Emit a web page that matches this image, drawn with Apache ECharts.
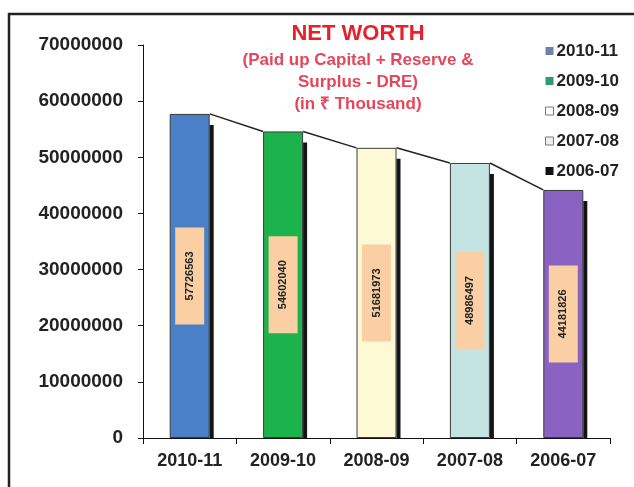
<!DOCTYPE html>
<html>
<head>
<meta charset="utf-8">
<script src="https://cdn.jsdelivr.net/npm/echarts@6/dist/echarts.min.js"></script>
<style>
  html, body { margin: 0; padding: 0; background: #fff; }
  #chart { width: 634px; height: 487px; }
</style>
</head>
<body>
<div id="chart"></div>
<script>
// data
const years = ['2010-11', '2009-10', '2008-09', '2007-08', '2006-07'];
const netWorth = [57726563, 54602040, 51681973, 48986497, 44181826];
const barColors = ['#4a80c8', '#1db34c', '#fdf9d4', '#c4e4e3', '#8a63c2'];
const legendColors = ['#6f80aa', '#2f9b6d', '#ffffff', '#eef0ee', '#111111'];
const yTicks = [0, 10000000, 20000000, 30000000, 40000000, 50000000, 60000000, 70000000];

const chart = echarts.init(document.getElementById('chart'));

// one series per year so the legend lists them; bars overlap via barGap -100%
const barSeries = years.map((y, i) => ({
  name: y,
  type: 'bar',
  barWidth: 40,
  barGap: '-100%',
  data: netWorth.map((v, j) => (j === i ? v : '-')),
  itemStyle: { color: barColors[i], borderColor: '#3a3a3a', borderWidth: 1 },
  label: {
    show: true,
    position: 'inside',
    rotate: 90,
    fontFamily: 'Liberation Sans, Arial, sans-serif',
    fontWeight: 'bold',
    fontSize: 11,
    color: '#222',
    backgroundColor: '#f9cfa3',
    padding: [9, 24]
  }
}));

// dark side strip + connecting line between bar tops (faux 3D look)
const edgeSeries = {
  type: 'custom',
  silent: true,
  z: 5,
  data: netWorth.map((v, i) => [i, v, i < netWorth.length - 1 ? netWorth[i + 1] : null]),
  renderItem: function (params, api) {
    const i = api.value(0);
    const top = api.coord([i, api.value(1)]);
    const base = api.coord([i, 0]);
    const half = 20;
    const children = [{
      type: 'rect',
      shape: { x: top[0] + half, y: top[1] + 11, width: 4, height: base[1] - top[1] - 11 },
      style: { fill: '#141414' }
    }];
    const nextVal = api.value(2);
    if (nextVal !== null && !isNaN(nextVal)) {
      const nxt = api.coord([i + 1, nextVal]);
      children.push({
        type: 'line',
        shape: { x1: top[0] + half, y1: top[1], x2: nxt[0] - half, y2: nxt[1] },
        style: { stroke: '#222', lineWidth: 1.5 }
      });
    }
    return { type: 'group', children: children };
  }
};

const option = {
  backgroundColor: '#fff',
  animation: false,
  textStyle: { fontFamily: 'Liberation Sans, Arial, sans-serif' },
  title: {
    text: 'NET WORTH',
    subtext: '(Paid up Capital + Reserve &\nSurplus - DRE)\n(in ₹ Thousand)',
    left: 353,
    top: 18,
    textAlign: 'center',
    itemGap: 4,
    textStyle: { color: '#e8202c', fontWeight: 'bold', fontSize: 22 },
    subtextStyle: { color: '#e3475b', fontWeight: 'bold', fontSize: 17, lineHeight: 22, align: 'center' }
  },
  legend: {
    orient: 'vertical',
    left: 540,
    top: 36,
    itemWidth: 8,
    itemHeight: 8,
    itemGap: 10,
    icon: 'rect',
    textStyle: { fontSize: 17, fontWeight: 'bold', color: '#222', lineHeight: 20, padding: [0, 0, 0, -2] },
    data: years.map((y, i) => ({
      name: y,
      itemStyle: { color: legendColors[i], borderColor: '#777', borderWidth: i === 2 || i === 3 ? 1 : 0 }
    }))
  },
  grid: { left: 143, right: 24, top: 45, bottom: 49 },
  xAxis: {
    type: 'category',
    data: years,
    axisLine: { lineStyle: { color: '#111', width: 1 } },
    axisTick: { show: true, length: 6, alignWithLabel: false, lineStyle: { color: '#111' } },
    axisLabel: { color: '#222', fontSize: 18, fontWeight: 'bold', margin: 14 }
  },
  yAxis: {
    type: 'value',
    min: yTicks[0],
    max: yTicks[yTicks.length - 1],
    interval: yTicks[1] - yTicks[0],
    axisLine: { show: true, lineStyle: { color: '#111', width: 1 } },
    axisTick: { show: true, length: 5, lineStyle: { color: '#111' } },
    splitLine: { show: false },
    axisLabel: { color: '#222', fontSize: 19, fontWeight: 'bold', margin: 20, formatter: v => String(v) }
  },
  graphic: [{
    type: 'rect',
    shape: { x: 9, y: 14, width: 700, height: 600 },
    style: { fill: 'none', stroke: '#222', lineWidth: 2.5 },
    silent: true
  }],
  series: barSeries.concat([edgeSeries])
};

chart.setOption(option);
</script>
</body>
</html>
